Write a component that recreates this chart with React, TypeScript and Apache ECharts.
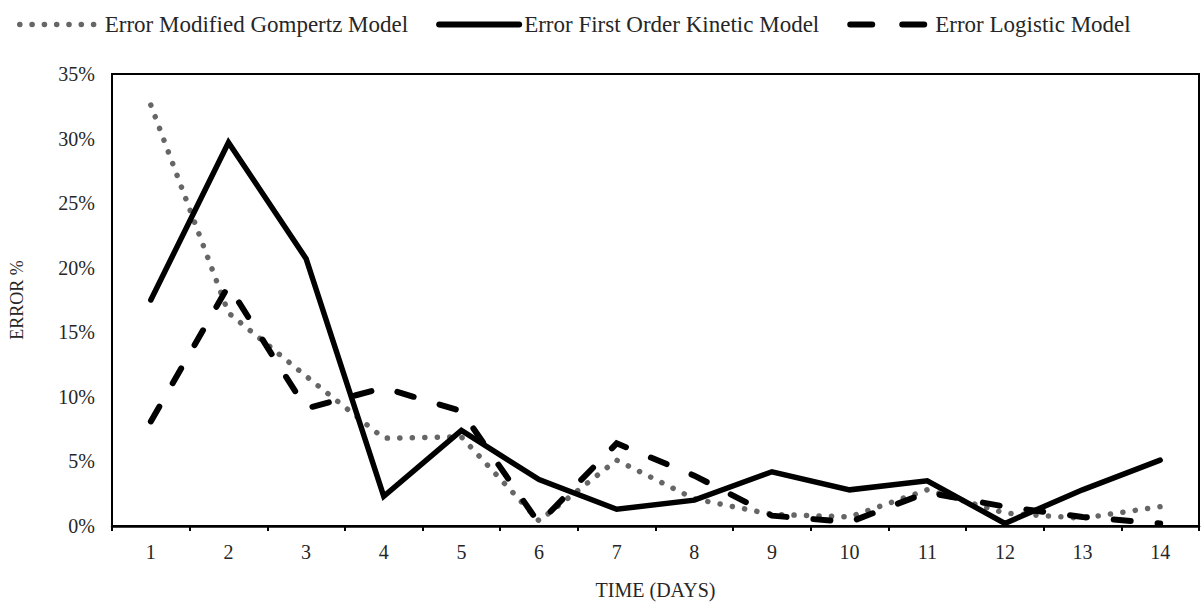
import React, { useEffect, useRef } from "react";
import * as echarts from "echarts";

const days = ["1", "2", "3", "4", "5", "6", "7", "8", "9", "10", "11", "12", "13", "14"];
const gompertzError = [32.6, 16.5, 11.6, 6.8, 6.9, 0.4, 5.1, 2.1, 0.9, 0.7, 2.8, 1.0, 0.6, 1.5];
const firstOrderError = [17.5, 29.7, 20.7, 2.3, 7.4, 3.6, 1.3, 2.0, 4.2, 2.8, 3.5, 0.2, 2.8, 5.1];
const logisticError = [8.1, 18.6, 9.1, 10.7, 8.9, 0.2, 6.4, 3.9, 0.8, 0.3, 2.6, 1.5, 0.7, 0.2];
const yTicks = [0, 5, 10, 15, 20, 25, 30, 35];

const FONT = "'Liberation Serif', 'Times New Roman', serif";
const TEXT = "#262626";
const DOT_COLOR = "#666666";

export default function App() {
  const ref = useRef<HTMLDivElement>(null);
  useEffect(() => {
    if (!ref.current) return;
    const chart = echarts.init(ref.current, undefined, { renderer: "svg" });
    chart.setOption({
      animation: false,
      textStyle: { fontFamily: FONT, color: TEXT },
      legend: {
        left: 12,
        top: 8,
        itemWidth: 80,
        itemHeight: 14,
        itemGap: 28,
        itemStyle: { opacity: 0 },
        textStyle: { fontFamily: FONT, fontSize: 23, color: TEXT },
        data: [
          {
            name: "Error Modified Gompertz Model",
            lineStyle: { color: DOT_COLOR, width: 5.5, type: [0.1, 12.2], cap: "round" },
          },
          {
            name: "Error First Order Kinetic Model",
            lineStyle: { color: "#000", width: 6, type: "solid", cap: "round" },
          },
          {
            name: "Error Logistic Model",
            lineStyle: { color: "#000", width: 6, type: [22, 30], cap: "round" },
          },
        ],
      },
      grid: {
        left: 104,
        right: 3,
        top: 74,
        bottom: 69,
        show: true,
        borderColor: "#000",
        borderWidth: 2,
        containLabel: false,
      },
      xAxis: {
        type: "category",
        data: days,
        boundaryGap: true,
        name: "TIME (DAYS)",
        nameLocation: "middle",
        nameGap: 54,
        nameTextStyle: { fontFamily: FONT, fontSize: 20, color: TEXT },
        axisLine: { lineStyle: { color: "#000", width: 2.5 } },
        axisTick: { show: true, length: 5, lineStyle: { color: "#000", width: 2 }, alignWithLabel: false },
        axisLabel: { fontFamily: FONT, fontSize: 20, color: TEXT, margin: 16 },
        splitLine: { show: false },
      },
      yAxis: {
        type: "value",
        min: yTicks[0],
        max: yTicks[yTicks.length - 1],
        interval: 5,
        name: "ERROR %",
        nameLocation: "middle",
        nameGap: 86,
        nameRotate: 90,
        nameTextStyle: { fontFamily: FONT, fontSize: 18, color: TEXT },
        axisLine: { show: true, lineStyle: { color: "#000", width: 2 } },
        axisTick: { show: false },
        axisLabel: {
          fontFamily: FONT,
          fontSize: 20,
          color: TEXT,
          margin: 17,
          formatter: (v: number) => `${v}%`,
        },
        splitLine: { show: false },
      },
      series: [
        {
          name: "Error Modified Gompertz Model",
          type: "line",
          data: gompertzError,
          symbol: "none",
          itemStyle: { color: DOT_COLOR },
          lineStyle: { color: DOT_COLOR, width: 5.5, type: [0.1, 12.4], cap: "round", join: "round" },
        },
        {
          name: "Error First Order Kinetic Model",
          type: "line",
          data: firstOrderError,
          symbol: "none",
          itemStyle: { color: "#000" },
          lineStyle: { color: "#000", width: 5.5, type: "solid", cap: "round", join: "miter" },
        },
        {
          name: "Error Logistic Model",
          type: "line",
          data: logisticError,
          symbol: "none",
          itemStyle: { color: "#000" },
          lineStyle: { color: "#000", width: 6, type: [17, 27], cap: "round", join: "miter" },
        },
      ],
    });
    return () => chart.dispose();
  }, []);
  return (
    <div
      ref={ref}
      style={{ position: "fixed", left: 0, top: 0, width: 1202, height: 605, background: "#fff" }}
    />
  );
}
